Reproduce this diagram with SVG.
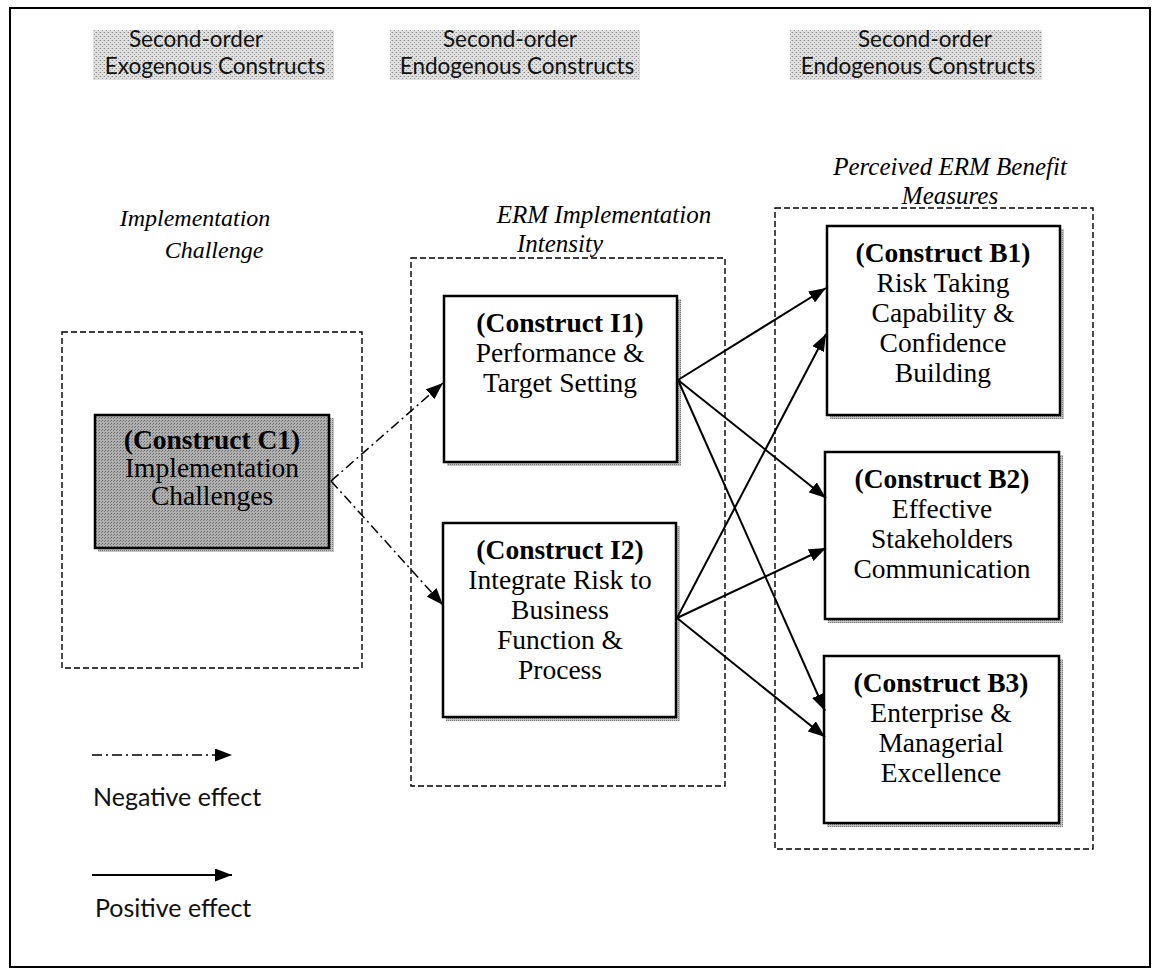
<svg xmlns="http://www.w3.org/2000/svg" width="1152" height="970" viewBox="0 0 1152 970">
  <defs>
    <!-- halftone-like screen for the shaded boxes -->
    <pattern id="lightScreen" width="4" height="4" patternUnits="userSpaceOnUse">
      <rect width="4" height="4" fill="#e0e0e0"/>
      <rect x="0" y="0" width="1" height="1" fill="#858585"/>
      <rect x="2" y="2" width="1" height="1" fill="#999"/>
      <rect x="3" y="0" width="1" height="1" fill="#c0c0c0"/>
    </pattern>
    <pattern id="darkScreen" width="3" height="3" patternUnits="userSpaceOnUse">
      <rect width="3" height="3" fill="#b0b0b0"/>
      <rect x="0" y="0" width="1" height="1" fill="#666"/>
      <rect x="2" y="1" width="1" height="1" fill="#7c7c7c"/>
    </pattern>
    <pattern id="shadowScreen" width="2" height="2" patternUnits="userSpaceOnUse">
      <rect width="2" height="2" fill="#c4c4c4"/>
      <rect x="0" y="0" width="1" height="1" fill="#777"/>
    </pattern>
    <marker id="head" viewBox="0 0 17 13" refX="17" refY="6.5" markerWidth="17" markerHeight="13" markerUnits="userSpaceOnUse" orient="auto">
      <path d="M0,0 L17,6.5 L0,13 Z" fill="#000"/>
    </marker>
  </defs>
  <style>
    .frame { fill: #fff; stroke: #000; stroke-width: 2; }
    .group { fill: none; stroke: #000; stroke-width: 1.4; stroke-dasharray: 6 3; }
    .node { fill: #fff; stroke: #000; stroke-width: 2.5; }
    .shadow { fill: url(#shadowScreen); }
    .hdr { fill: url(#lightScreen); }
    .sans { font-family: Lato, "Open Sans", "Liberation Sans", sans-serif; font-size: 22.5px; fill: #111; text-anchor: middle; }
    .key { font-family: Lato, "Open Sans", "Liberation Sans", sans-serif; font-size: 25px; fill: #111; }
    .serif { font-family: "Liberation Serif", "Times New Roman", serif; font-size: 27.5px; fill: #000; text-anchor: middle; }
    .bold { font-weight: bold; }
    .ital { font-family: "Liberation Serif", "Times New Roman", serif; font-style: italic; font-size: 25px; text-anchor: middle; fill: #000; }
    .pos { fill: none; stroke: #000; stroke-width: 2; marker-end: url(#head); }
    .neg { fill: none; stroke: #000; stroke-width: 1.5; stroke-dasharray: 10 4 2 4; marker-end: url(#head); }
  </style>

  <!-- page frame -->
  <rect class="frame" x="10" y="8" width="1140" height="959"/>

  <!-- column headings -->
  <g id="header-exogenous">
    <rect class="hdr" x="93" y="30" width="241" height="50"/>
    <text class="sans" x="196" y="47">Second-order</text>
    <text class="sans" x="215" y="74">Exogenous Constructs</text>
  </g>
  <g id="header-endogenous-1">
    <rect class="hdr" x="390" y="30" width="250" height="50"/>
    <text class="sans" x="510" y="47">Second-order</text>
    <text class="sans" x="517" y="74">Endogenous Constructs</text>
  </g>
  <g id="header-endogenous-2">
    <rect class="hdr" x="790" y="30" width="252" height="50"/>
    <text class="sans" x="925" y="47">Second-order</text>
    <text class="sans" x="918" y="74">Endogenous Constructs</text>
  </g>

  <!-- construct groupings -->
  <g id="group-challenge">
    <text class="ital" x="195" y="226" style="font-size:24px">Implementation</text>
    <text class="ital" x="214" y="258" style="font-size:24px">Challenge</text>
    <rect class="group" x="62" y="332" width="300" height="336"/>
  </g>
  <g id="group-intensity">
    <text class="ital" x="604" y="223">ERM Implementation</text>
    <text class="ital" x="560" y="252">Intensity</text>
    <rect class="group" x="411" y="258" width="314" height="528"/>
  </g>
  <g id="group-benefit">
    <text class="ital" x="950" y="175">Perceived ERM Benefit</text>
    <text class="ital" x="950" y="204">Measures</text>
    <rect class="group" x="775" y="208" width="318" height="641"/>
  </g>

  <!-- constructs -->
  <g id="C1">
    <rect class="shadow" x="98" y="418" width="236" height="134"/>
    <rect x="95" y="415" width="234" height="133" fill="url(#darkScreen)" stroke="#000" stroke-width="2.5"/>
    <text class="serif bold" x="212" y="449">(Construct C1)</text>
    <text class="serif" x="212" y="477">Implementation</text>
    <text class="serif" x="212" y="505">Challenges</text>
  </g>

  <g id="I1">
    <rect class="shadow" x="447" y="299" width="234" height="167"/>
    <rect class="node" x="444" y="296" width="233" height="166"/>
    <text class="serif bold" x="560" y="332">(Construct I1)</text>
    <text class="serif" x="560" y="362">Performance &amp;</text>
    <text class="serif" x="560" y="392">Target Setting</text>
  </g>

  <g id="I2">
    <rect class="shadow" x="446" y="526" width="234" height="195"/>
    <rect class="node" x="443" y="523" width="233" height="194"/>
    <text class="serif bold" x="560" y="559">(Construct I2)</text>
    <text class="serif" x="560" y="589">Integrate Risk to</text>
    <text class="serif" x="560" y="619">Business</text>
    <text class="serif" x="560" y="649">Function &amp;</text>
    <text class="serif" x="560" y="679">Process</text>
  </g>

  <g id="B1">
    <rect class="shadow" x="830" y="229" width="234" height="190"/>
    <rect class="node" x="827" y="226" width="233" height="189"/>
    <text class="serif bold" x="943" y="262">(Construct B1)</text>
    <text class="serif" x="943" y="292">Risk Taking</text>
    <text class="serif" x="943" y="322">Capability &amp;</text>
    <text class="serif" x="943" y="352">Confidence</text>
    <text class="serif" x="943" y="382">Building</text>
  </g>

  <g id="B2">
    <rect class="shadow" x="828" y="455" width="235" height="168"/>
    <rect class="node" x="825" y="452" width="234" height="167"/>
    <text class="serif bold" x="942" y="488">(Construct B2)</text>
    <text class="serif" x="942" y="518">Effective</text>
    <text class="serif" x="942" y="548">Stakeholders</text>
    <text class="serif" x="942" y="578">Communication</text>
  </g>

  <g id="B3">
    <rect class="shadow" x="827" y="659" width="236" height="168"/>
    <rect class="node" x="824" y="656" width="235" height="167"/>
    <text class="serif bold" x="941" y="692">(Construct B3)</text>
    <text class="serif" x="941" y="722">Enterprise &amp;</text>
    <text class="serif" x="941" y="752">Managerial</text>
    <text class="serif" x="941" y="782">Excellence</text>
  </g>

  <!-- paths between constructs -->
  <g id="connectors">
    <line class="neg" x1="331" y1="481" x2="443" y2="383"/>
    <line class="neg" x1="331" y1="481" x2="443" y2="605"/>
    <line class="pos" x1="678" y1="380" x2="826" y2="288"/>
    <line class="pos" x1="678" y1="380" x2="826" y2="498"/>
    <line class="pos" x1="678" y1="380" x2="825" y2="711"/>
    <line class="pos" x1="677" y1="618" x2="826" y2="334"/>
    <line class="pos" x1="677" y1="618" x2="826" y2="548"/>
    <line class="pos" x1="677" y1="618" x2="825" y2="737"/>
  </g>

  <!-- key -->
  <g id="legend">
    <line class="neg" x1="92" y1="755" x2="232" y2="755"/>
    <text class="key" x="93" y="806">Negative effect</text>
    <line class="pos" x1="92" y1="875" x2="232" y2="875"/>
    <text class="key" x="95" y="917">Positive effect</text>
  </g>
</svg>
